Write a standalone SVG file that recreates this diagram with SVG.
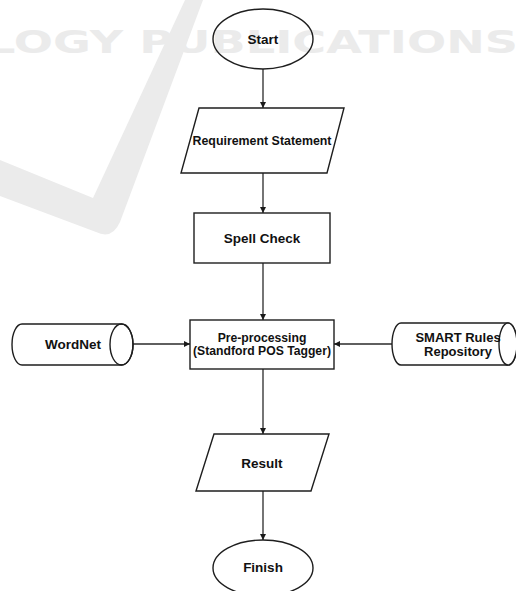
<svg xmlns="http://www.w3.org/2000/svg" width="516" height="591" viewBox="0 0 516 591">
  <defs>
    <marker id="arr" viewBox="0 0 10 10" refX="10" refY="5" markerWidth="6" markerHeight="6" orient="auto" markerUnits="userSpaceOnUse">
      <path d="M0,0 L10,5 L0,10 Z" fill="#1a1a1a"/>
    </marker>
    <style>
      .shape { fill: #ffffff; stroke: #1e1e1e; stroke-width: 1.4; }
      .open { fill: none; stroke: #1e1e1e; stroke-width: 1.4; }
      .lbl { font-family: "Liberation Sans", Arial, sans-serif; font-weight: bold; font-size: 13.5px; fill: #111111; text-anchor: middle; }
      .conn { fill: none; stroke: #2a2a2a; stroke-width: 1.3; marker-end: url(#arr); }
      .wm { fill: #ebebeb; }
    </style>
  </defs>
  <rect width="516" height="591" fill="#ffffff"/>
  <g id="watermark">
    <path class="wm" d="M185,0 L203,0 L120,222 Q112,240 96,232 L0,196 L0,160 L93,198 Z"/>
    <text x="-14" y="53" font-family="DejaVu Sans, sans-serif" font-weight="bold" font-size="32" class="wm" textLength="532" lengthAdjust="spacingAndGlyphs">LOGY PUBLICATIONS</text>
  </g>
  <g id="connectors">
    <line class="conn" x1="263" y1="69" x2="263" y2="108"/>
    <line class="conn" x1="263" y1="173" x2="263" y2="213"/>
    <line class="conn" x1="263" y1="263" x2="263" y2="320"/>
    <line class="conn" x1="133" y1="344" x2="190" y2="344"/>
    <line class="conn" x1="392" y1="344" x2="334" y2="344"/>
    <line class="conn" x1="263" y1="369" x2="263" y2="434"/>
    <line class="conn" x1="263" y1="491" x2="263" y2="540"/>
  </g>
  <g id="start">
    <ellipse class="open" cx="263" cy="39" rx="50" ry="30"/>
    <text class="lbl" x="263" y="44">Start</text>
  </g>
  <g id="requirement">
    <polygon class="shape" points="199,108 344,108 327,173 181,173"/>
    <text class="lbl" x="262" y="145" textLength="139" lengthAdjust="spacingAndGlyphs">Requirement Statement</text>
  </g>
  <g id="spellcheck">
    <rect class="shape" x="194" y="213" width="136" height="50"/>
    <text class="lbl" x="262" y="243">Spell Check</text>
  </g>
  <g id="preprocessing">
    <rect class="shape" x="190" y="320" width="144" height="49"/>
    <text class="lbl" x="262" y="342" style="font-size:12.2px">Pre-processing</text>
    <text class="lbl" x="262" y="355" style="font-size:12.2px">(Standford POS Tagger)</text>
  </g>
  <g id="wordnet">
    <path class="shape" d="M22,324 L121.5,324 A11.5,20.5 0 0 1 121.5,365 L22,365 A10,20.5 0 0 1 22,324 Z"/>
    <ellipse class="open" cx="121.5" cy="344.5" rx="11.5" ry="20.5"/>
    <text class="lbl" x="73" y="349">WordNet</text>
  </g>
  <g id="smartrules">
    <path class="shape" d="M401,323 L508,323 A9,21 0 0 1 508,365 L401,365 A9,21 0 0 1 401,323 Z"/>
    <ellipse class="shape" cx="508" cy="344" rx="9" ry="21"/>
    <text class="lbl" x="458" y="342" style="font-size:13px">SMART Rules</text>
    <text class="lbl" x="458" y="356" style="font-size:13px">Repository</text>
  </g>
  <g id="result">
    <polygon class="shape" points="214,434 329,434 311,491 196,491"/>
    <text class="lbl" x="262" y="468">Result</text>
  </g>
  <g id="finish">
    <ellipse class="shape" cx="263" cy="568" rx="50" ry="28"/>
    <text class="lbl" x="263" y="572">Finish</text>
  </g>
</svg>
